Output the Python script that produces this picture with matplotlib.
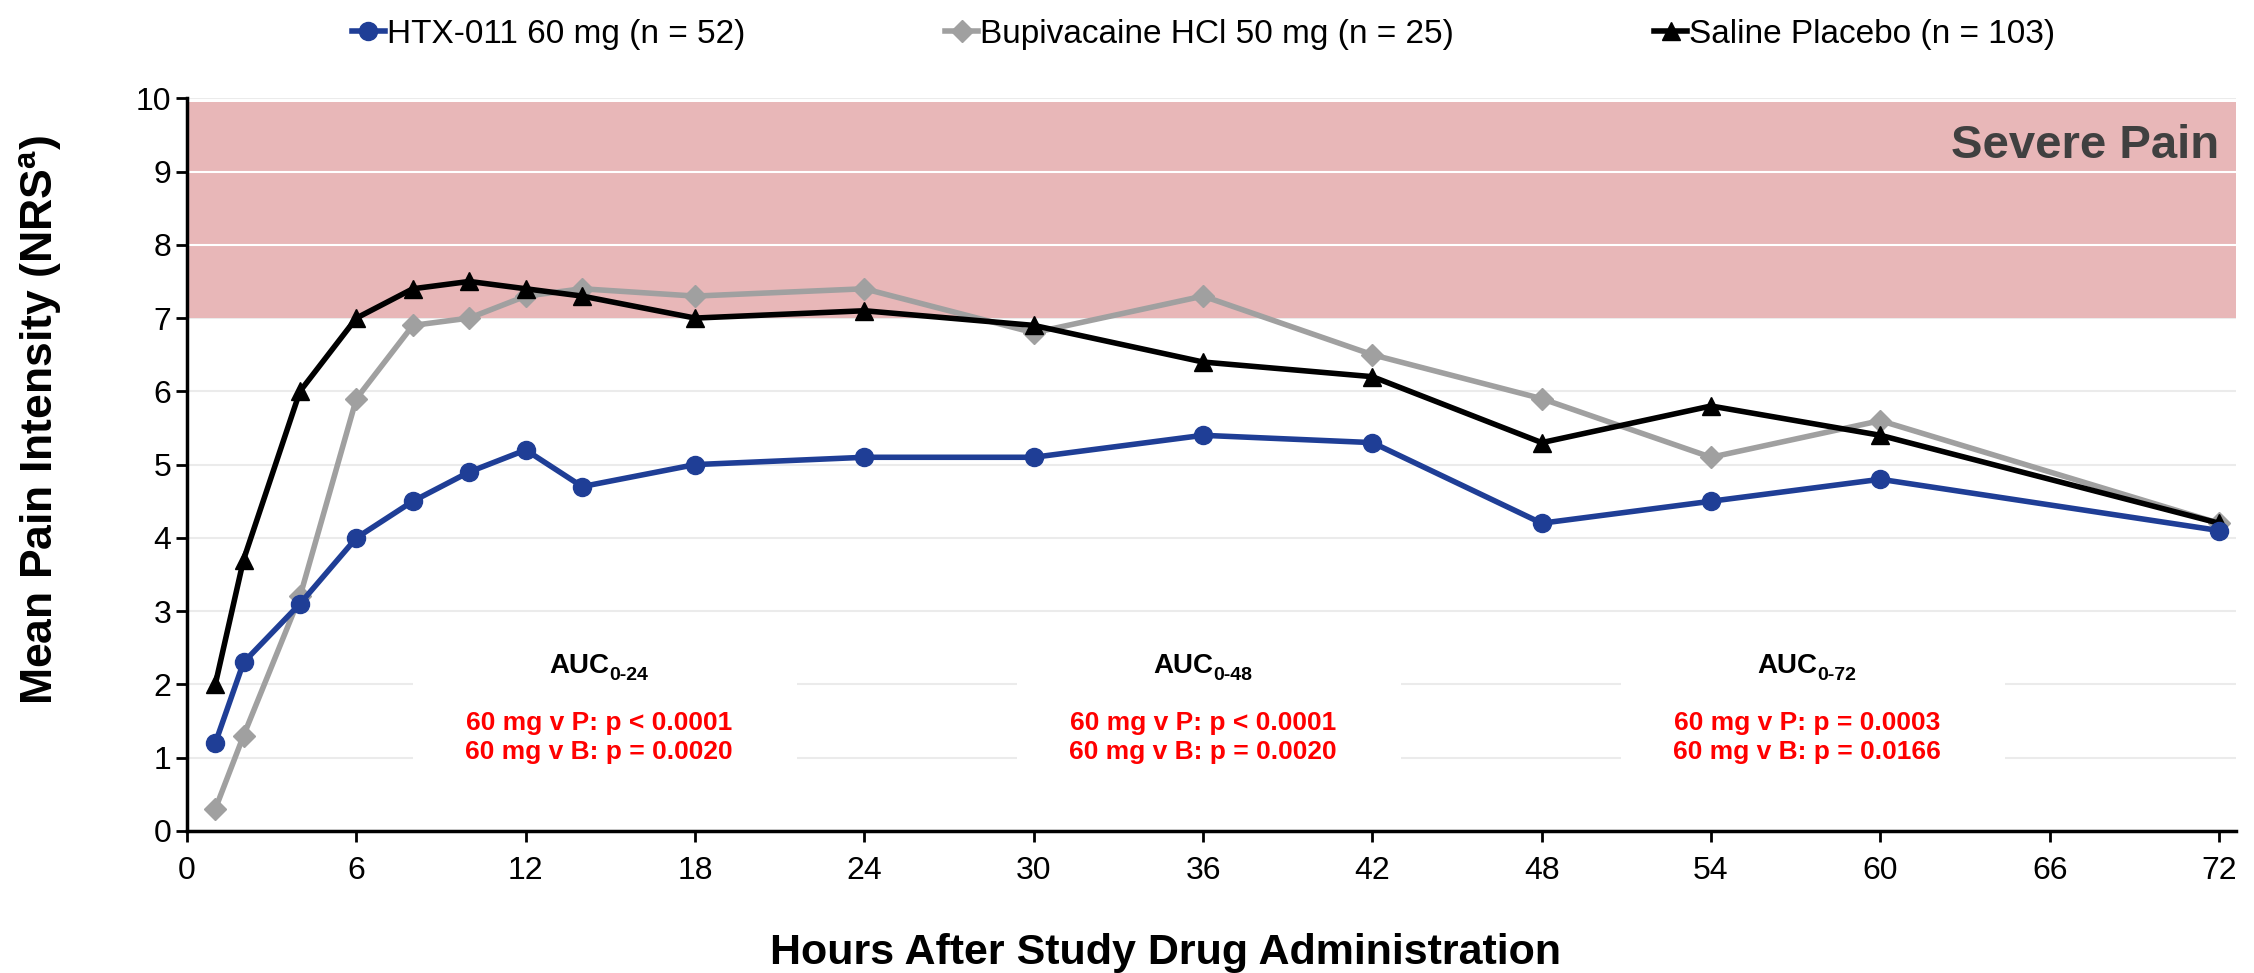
import numpy as np
import matplotlib
matplotlib.use("Agg")
import matplotlib.pyplot as plt
from matplotlib.patches import Rectangle

plt.rcParams['font.family'] = ['Liberation Sans', 'DejaVu Sans']

hours = [1, 2, 4, 6, 8, 10, 12, 14, 18, 24, 30, 36, 42, 48, 54, 60, 72]
htx = [1.2, 2.3, 3.1, 4.0, 4.5, 4.9, 5.2, 4.7, 5.0, 5.1, 5.1, 5.4, 5.3, 4.2, 4.5, 4.8, 4.1]
bupi = [0.3, 1.3, 3.2, 5.9, 6.9, 7.0, 7.3, 7.4, 7.3, 7.4, 6.8, 7.3, 6.5, 5.9, 5.1, 5.6, 4.2]
saline = [2.0, 3.7, 6.0, 7.0, 7.4, 7.5, 7.4, 7.3, 7.0, 7.1, 6.9, 6.4, 6.2, 5.3, 5.8, 5.4, 4.2]

labels = ['HTX-011 60 mg (n = 52)', 'Bupivacaine HCl 50 mg (n = 25)', 'Saline Placebo (n = 103)']

auc_x = [14.6, 36.0, 57.4]
auc_sub = ['0-24', '0-48', '0-72']
auc_p = ['p < 0.0001', 'p < 0.0001', 'p = 0.0003']
auc_b = ['p = 0.0020', 'p = 0.0020', 'p = 0.0166']

fig = plt.figure(figsize=(22.54, 9.73), dpi=100)
ax = fig.add_axes([0.083, 0.146, 0.909, 0.753])

# grid + severe pain band
for yv in range(1, 11):
    ax.axhline(yv, color='#EBEBEB', lw=1.5, zorder=0)
ax.add_patch(Rectangle((0, 7), 73, 2.95, color='#E8B7B8', lw=0, zorder=0.5))
for yv in [8, 9]:
    ax.axhline(yv, color='white', lw=1.5, zorder=0.6)
ax.text(72, 9.35, 'Severe Pain', ha='right', va='center', fontsize=34,
        fontweight='bold', color='#404040', zorder=1)

# white boxes behind AUC text
for xc in auc_x:
    ax.add_patch(Rectangle((xc - 6.6, 0.85), 13.6, 1.3, color='white', lw=0, zorder=0.7))

ax.plot(hours, htx, color='#1F3E96', lw=4, marker='o', ms=13, label=labels[0], zorder=5)
ax.plot(hours, bupi, color='#A0A0A0', lw=4, marker='D', ms=11, label=labels[1], zorder=3)
ax.plot(hours, saline, color='black', lw=4, marker='^', ms=13, label=labels[2], zorder=4)

for xc, s, p, b in zip(auc_x, auc_sub, auc_p, auc_b):
    ax.text(xc + 0.36, 2.25, 'AUC', ha='right', va='center', fontsize=20, fontweight='bold')
    ax.text(xc + 0.36, 2.12, s, ha='left', va='center', fontsize=14, fontweight='bold')
    ax.text(xc, 1.47, '60 mg v P: ' + p, ha='center', va='center', fontsize=19,
            fontweight='bold', color='#FF0000')
    ax.text(xc, 1.08, '60 mg v B: ' + b, ha='center', va='center', fontsize=19,
            fontweight='bold', color='#FF0000')

ax.set_xlim(0, 72.6)
ax.set_ylim(0, 10)
ax.set_xticks(range(0, 73, 6))
ax.set_yticks(range(0, 11))
ax.tick_params(labelsize=23, length=8, width=2, direction='out')
ax.tick_params(axis='x', pad=10)
for s in ['top', 'right']:
    ax.spines[s].set_visible(False)
for s in ['left', 'bottom']:
    ax.spines[s].set_linewidth(2.5)

fig.text(0.018, 0.568, 'Mean Pain Intensity (NRS$^{\\mathregular{a}}$)', rotation=90,
         ha='center', va='center', fontsize=32, fontweight='bold')
fig.text(0.517, 0.021, 'Hours After Study Drug Administration', ha='center', va='center',
         fontsize=31, fontweight='bold')

ax.legend(loc='lower center', bbox_to_anchor=(0.496, 1.025), ncol=3, frameon=False,
          fontsize=24, columnspacing=6.0, handlelength=1.0, handletextpad=0.05)

fig.savefig('out.png', dpi=100)
